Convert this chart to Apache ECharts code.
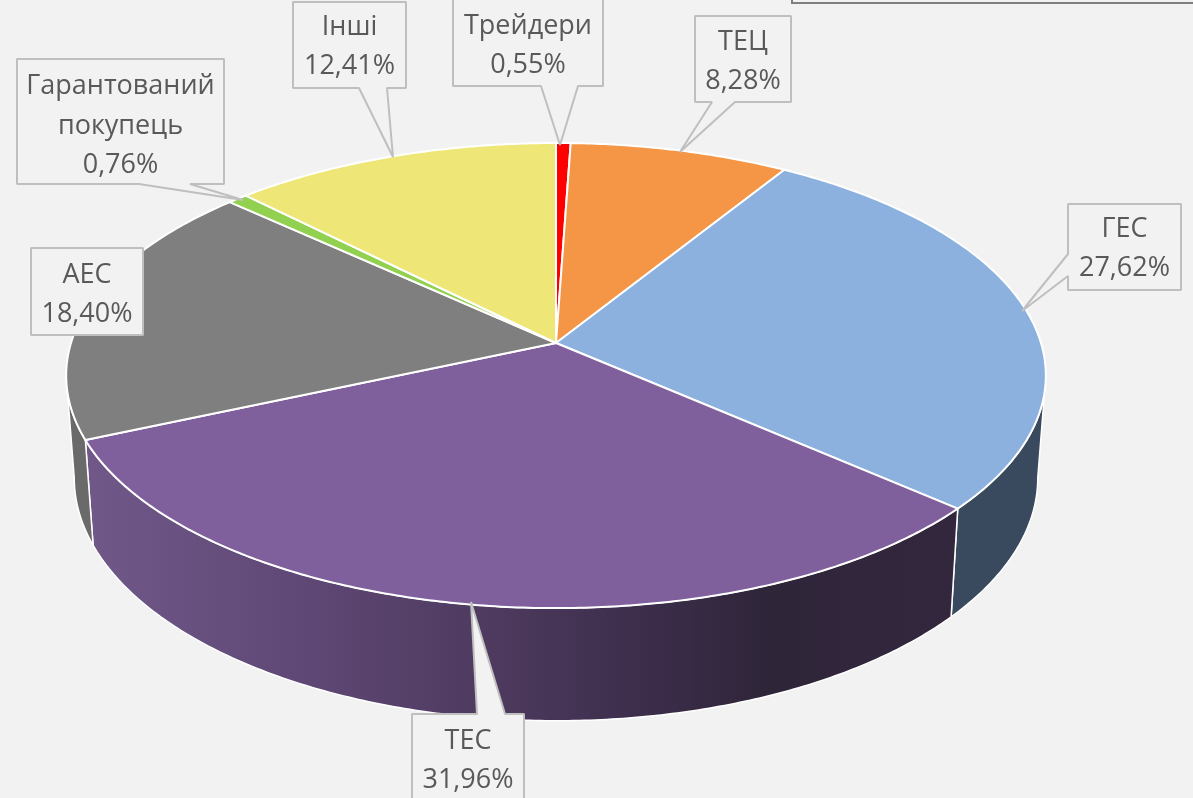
<!DOCTYPE html>
<html>
<head>
<meta charset="utf-8">
<style>html,body{margin:0;padding:0;background:#f2f2f2}#c{width:1193px;height:798px}</style>
<script src="https://cdn.jsdelivr.net/npm/echarts@6/dist/echarts.min.js"></script>
</head>
<body>
<div id="c"></div>
<script>
// data, in drawing order, clockwise from the top of the pie
const categories = ['Трейдери', 'ТЕЦ', 'ГЕС', 'ТЕС', 'АЕС', 'Гарантований\nпокупець', 'Інші'];
const shares = [0.55, 8.28, 27.62, 31.96, 18.40, 0.76, 12.41];

// styling
const topColors = ['#ff0000', '#f49646', '#8cb1df', '#7f609d', '#7f7f7f', '#92d050', '#eee777'];
const wallColors = ['#990000', '#94592a', '#3a4a5e', null, '#6a6a6a', '#57803a', '#8f8a48'];

// 3D view of the pie: perspective projection of the top and bottom discs
const view = {cx: 556, k: 0.14, top: {y: 343, a: 485, b: 228}, bottom: {y: 444, a: 477, b: 238}};

// callout layout: box [x0, y0, x1, y1], side the pointer leaves from, pointer outline
const calloutLayout = [
  {box: [453, -1, 603, 86], side: 'bottom', wedge: [[578, 86], [560, 145], [541, 86]], textY: 46},
  {box: [695, 16, 791, 102], side: 'bottom', wedge: [[735, 102], [680, 152], [712, 102]], textY: 62},
  {box: [1068, 204, 1181, 290], side: 'left', wedge: [[1068, 276], [1022, 311], [1068, 254]], textY: 249},
  {box: [412, 714, 524, 812], side: 'top', wedge: [[477, 714], [471, 602], [505, 714]], textY: 761},
  {box: [31, 248, 143, 335], side: null, textY: 295},
  {box: [17, 59, 224, 184], side: 'bottom', wedge: [[190, 184], [243, 200], [139, 184]], textY: 126},
  {box: [293, 2, 406, 88], side: 'bottom', wedge: [[387, 88], [393, 157], [359, 88]], textY: 47}
];

const total = shares.reduce((s, v) => s + v, 0);
const TAU = Math.PI * 2;
function project(theta, disc) {
  const u = Math.sin(theta), v = -Math.cos(theta), w = 1 - view.k * v;
  return [view.cx + disc.a * u / w, disc.y + disc.b * v / w];
}
function arc(from, to, disc) {
  const n = Math.max(2, Math.ceil(Math.abs(to - from) / 0.01));
  const pts = [];
  for (let i = 0; i <= n; i++) pts.push(project(from + (to - from) * i / n, disc));
  return pts;
}
function angles(i) {
  let before = 0;
  for (let j = 0; j < i; j++) before += shares[j];
  return [before / total * TAU, (before + shares[i]) / total * TAU];
}
const silhouetteA = Math.acos(-view.k), silhouetteB = TAU - silhouetteA;
const sourceData = categories.map((c, i) => ({name: c.replace('\n', ' '), value: shares[i]}));

function renderWall(params) {
  const i = params.dataIndex;
  const [a0, a1] = angles(i);
  const from = Math.max(a0, silhouetteA), to = Math.min(a1, silhouetteB);
  if (to <= from) return null;
  const pts = arc(from, to, view.top).concat(arc(from, to, view.bottom).reverse());
  const fill = wallColors[i] || new echarts.graphic.LinearGradient(0, 0, 1, 0, [
    {offset: 0, color: '#705889'},
    {offset: 0.25, color: '#5f4875'},
    {offset: 0.45, color: '#4f3b60'},
    {offset: 0.65, color: '#3b2d4a'},
    {offset: 0.78, color: '#2f2539'},
    {offset: 1, color: '#33273d'}
  ]);
  return {type: 'polygon', shape: {points: pts}, style: {fill, stroke: '#ffffff', lineWidth: 1.5, lineJoin: 'round'}};
}
function renderTop(params) {
  const i = params.dataIndex;
  const [a0, a1] = angles(i);
  const pts = [[view.cx, view.top.y]].concat(arc(a0, a1, view.top));
  return {type: 'polygon', shape: {points: pts}, style: {fill: topColors[i], stroke: '#ffffff', lineWidth: 2, lineJoin: 'round'}};
}
function renderCallout(params, api) {
  const i = params.dataIndex;
  const l = calloutLayout[i];
  const [x0, y0, x1, y1] = l.box;
  const w = l.wedge || [];
  const pts = [[x0, y0]]
    .concat(l.side === 'top' ? w : [], [[x1, y0]], [[x1, y1]])
    .concat(l.side === 'bottom' ? w : [], [[x0, y1]])
    .concat(l.side === 'left' ? w : []);
  const label = categories[i] + '\n' + api.value(0).toFixed(2).replace('.', ',') + '%';
  return {
    type: 'group',
    children: [
      {type: 'polygon', shape: {points: pts}, style: {fill: '#f2f2f2', stroke: '#bfbfbf', lineWidth: 2, lineJoin: 'bevel'}},
      {type: 'text', style: {
        text: label, x: (x0 + x1) / 2, y: l.textY,
        align: 'center', verticalAlign: 'middle',
        fontFamily: 'Open Sans', fontSize: 27, lineHeight: 39.5, fill: '#595959'
      }}
    ]
  };
}

const chart = echarts.init(document.getElementById('c'), null, {renderer: 'canvas'});
chart.setOption({
  animation: false,
  backgroundColor: '#f2f2f2',
  graphic: [{
    type: 'rect', z: 0, shape: {x: 792, y: -10, width: 420, height: 13},
    style: {fill: '#f2f2f2', stroke: '#7f7f7f', lineWidth: 2}
  }],
  series: [
    {type: 'custom', coordinateSystem: 'none', silent: true, z: 1, renderItem: renderWall, data: sourceData},
    {type: 'custom', coordinateSystem: 'none', silent: true, z: 2, renderItem: renderTop, data: sourceData},
    {type: 'custom', coordinateSystem: 'none', silent: true, z: 3, renderItem: renderCallout, data: sourceData}
  ]
});
</script>
</body>
</html>
